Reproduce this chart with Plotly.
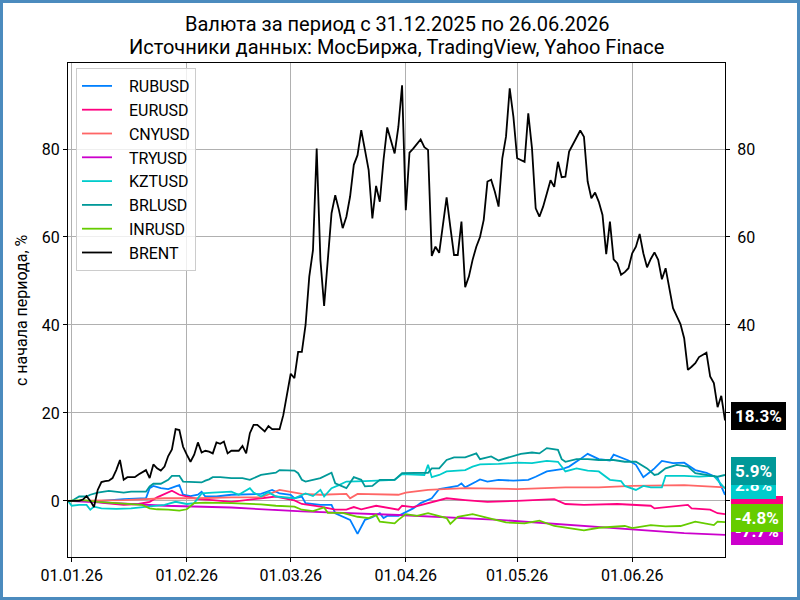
import pandas as pd
import plotly.graph_objects as go

START = "2025-12-31"
END = "2026-06-26"

# ---- BRENT: daily values, % change since 31.12.2025 ----
brent = [
    0, 0, 0, 0, 0.3, 1.1, 0, -1.4, 2.5, 4.3,
    4.5, 4.6, 5.2, 7.0, 9.3, 4.8, 5.4, 5.4, 5.4, 6.0,
    6.5, 7.0, 5.2, 8.3, 7.4, 6.9, 7.8, 10.2, 11.7, 16.3,
    16.1, 12.3, 10.5, 8.9, 10.5, 13.3, 11.0, 11.4, 11.2, 10.8,
    13.3, 13.0, 13.5, 10.8, 11.4, 11.4, 11.4, 12.5, 10.8, 15.4,
    17.3, 17.3, 16.5, 15.8, 17.0, 16.3, 16.3, 16.3, 19.5, 24.0,
    28.9, 27.9, 33.9, 33.9, 40.0, 51.0, 57.0, 80.1, 54.8, 44.3,
    54.8, 65.4, 69.5, 66.1, 62.0, 64.6, 69.2, 76.4, 78.6, 84.3,
    79.8, 75.2, 64.2, 71.6, 68.0, 77.5, 84.9, 82.0, 79.0, 85.0,
    94.5, 66.1, 79.2, 80.1, 81.2, 82.2, 80.4, 79.8, 55.7, 57.8,
    56.4, 62.7, 69.0, 62.3, 55.9, 55.9, 63.5, 48.6, 51.0, 54.8,
    57.8, 60.0, 63.9, 72.6, 73.0, 70.3, 66.9, 77.9, 82.8, 93.8,
    87.3, 77.9, 77.5, 77.1, 88.1, 80.2, 66.5, 64.6, 66.9, 69.9,
    72.9, 71.4, 77.1, 73.6, 73.7, 79.4, 80.9, 82.5, 84.2, 82.8,
    72.6, 68.8, 70.1, 68.0, 65.0, 56.1, 63.5, 54.9, 54.0, 51.4,
    52.0, 52.9, 56.3, 57.8, 60.7, 56.3, 53.1, 55.0, 56.5, 54.8,
    50.4, 52.9, 48.0, 43.8, 42.0, 40.2, 37.0, 29.8, 30.5, 31.3,
    32.7, 33.2, 33.7, 28.3, 26.8, 21.3, 23.9, 18.3,
]

# ---- currencies: (days since 31.12.2025, % change) ----
rub_days = [0, 9, 15, 21, 22, 23, 25, 27, 29, 30, 31, 33, 35, 36, 37, 40, 44, 52, 55, 57, 60, 61, 63, 64,
            68, 71, 72, 76, 78, 80, 82, 84, 85, 86, 89, 93, 95, 98, 100, 105, 106, 107, 110, 111, 113, 116,
            120, 124, 126, 129, 133, 135, 138, 140, 143, 146, 147, 149, 151, 153, 155, 157, 158, 160, 163,
            166, 169, 172, 175, 177]
rub_vals = [0, 0, 0.4, 0.6, 2.9, 3.4, 2.9, 2.7, 3.3, 3.6, 1.4, 1.1, 1.4, 2.1, 1.0, 1.0, 1.4, 1.6, 2.5, 1.7, 1.4,
            0.6, 1.0, -0.5, -0.9, -0.9, -2.8, -4.3, -7.5, -4.3, -3.7, -2.8, -3.9, -3.4, -3.4, -1.7, -0.5, 0.6,
            2.7, 3.4, 4.0, 3.1, 4.4, 4.9, 4.4, 4.8, 4.6, 4.8, 5.5, 6.7, 7.2, 7.8, 9.5, 10.7, 9.5, 9.2, 10.5,
            9.9, 9.2, 8.2, 5.4, 6.7, 7.4, 9.1, 8.6, 8.7, 7.0, 6.4, 5.2, 1.4]

eur_days = [0, 6, 10, 15, 19, 22, 24, 26, 28, 30, 32, 35, 39, 44, 52, 56, 61, 63, 68, 72, 75, 77, 79, 83, 89,
            90, 93, 98, 102, 107, 113, 121, 131, 134, 139, 148, 157, 158, 167, 168, 173, 175, 177]
eur_vals = [0, 0, -0.5, -0.9, -0.7, -0.2, 0.8, 1.6, 2.3, 1.4, 1.0, 0.4, 0.2, -0.2, 0.6, 1.0, 0.1, -0.7, -1.3,
            -2.0, -2.0, -1.4, -1.9, -1.1, -2.0, -1.1, -1.4, -0.2, 0.6, 0.2, -0.2, 0.0, 0.4, -0.7, -0.9, -0.7,
            -1.1, -1.7, -0.9, -1.7, -2.0, -2.8, -3.0]

cny_days = [0, 15, 26, 35, 44, 52, 57, 61, 63, 68, 75, 76, 78, 89, 91, 97, 107, 121, 134, 143, 152, 166, 177]
cny_vals = [0, 0.2, 0.6, 0.6, 0.8, 0.8, 2.5, 1.9, 1.6, 1.4, 1.6, 0.6, 1.6, 1.4, 1.9, 2.5, 2.9, 2.7, 3.1, 3.1,
            3.4, 3.6, 3.1]

try_days = [0, 9, 17, 26, 35, 44, 63, 89, 116, 143, 166, 177]
try_vals = [0, -0.3, -0.7, -1.1, -1.3, -1.5, -2.4, -3.2, -4.3, -6.0, -7.3, -7.7]

kzt_days = [0, 1, 3, 5, 6, 7, 9, 13, 17, 21, 26, 29, 32, 34, 35, 36, 39, 44, 46, 49, 50, 52, 54, 56, 61, 63,
            64, 66, 68, 69, 71, 73, 75, 80, 88, 90, 96, 97, 98, 100, 102, 107, 109, 111, 116, 121, 125, 129,
            132, 134, 137, 140, 143, 146, 149, 150, 153, 155, 157, 160, 161, 166, 170, 174, 175, 177]
kzt_vals = [0, -1.1, -0.9, -0.9, -2.0, -1.3, -1.7, -1.8, -1.7, -1.3, -0.9, -0.2, -0.7, -0.5, 0.6, 1.7, 1.9,
            2.1, 1.4, 2.9, 1.9, 1.0, 2.0, 1.0, 0.6, 1.4, 1.7, 1.1, 2.5, 1.0, 2.9, 3.6, 4.4, 4.5, 4.8, 6.1,
            5.9, 8.2, 5.4, 5.9, 6.7, 7.0, 7.8, 8.3, 8.4, 8.7, 8.6, 9.1, 8.9, 6.7, 7.4, 6.9, 6.7, 4.8, 4.5,
            3.4, 2.5, 3.4, 3.1, 3.1, 5.7, 5.7, 5.5, 5.7, 4.8, 2.8]

brl_days = [0, 1, 3, 5, 6, 8, 11, 13, 15, 17, 21, 22, 23, 25, 27, 28, 30, 31, 34, 36, 37, 38, 39, 41, 44, 47,
            49, 52, 56, 57, 61, 62, 63, 64, 68, 71, 72, 75, 77, 79, 80, 82, 84, 88, 90, 97, 98, 100, 102,
            104, 107, 110, 111, 114, 116, 119, 122, 125, 127, 129, 132, 133, 134, 137, 140, 143, 147, 150,
            153, 156, 158, 159, 161, 164, 167, 169, 172, 175, 177]
brl_vals = [0, 0, 1.0, 1.0, 1.4, 1.9, 2.3, 2.1, 1.9, 2.1, 2.1, 3.3, 3.9, 3.9, 4.8, 5.7, 5.7, 4.4, 4.2, 4.2,
            4.6, 4.9, 5.4, 5.4, 5.2, 5.2, 4.8, 5.9, 6.4, 7.0, 6.9, 6.3, 4.8, 4.4, 5.2, 6.4, 4.0, 2.9, 5.4,
            4.8, 3.3, 3.4, 4.8, 4.8, 6.3, 6.4, 7.4, 7.4, 9.3, 9.9, 9.9, 10.8, 9.5, 10.1, 9.2, 9.9, 10.7,
            11.0, 10.8, 12.0, 11.6, 9.5, 8.9, 9.5, 9.5, 9.3, 9.3, 8.9, 8.9, 7.4, 5.9, 6.1, 7.4, 8.2, 7.8,
            6.3, 5.9, 5.5, 5.9]

inr_days = [0, 4, 8, 13, 17, 20, 22, 24, 27, 30, 32, 34, 37, 44, 52, 56, 61, 63, 66, 69, 70, 74, 78, 81, 83,
            84, 88, 89, 91, 94, 97, 100, 102, 103, 105, 109, 113, 118, 123, 127, 131, 134, 139, 143, 148,
            150, 152, 157, 161, 165, 169, 174, 175, 177]
inr_vals = [0, 0.2, -0.2, -0.5, -0.7, -0.9, -1.7, -1.9, -2.0, -2.2, -1.9, -0.5, -0.4, -0.5, -0.8, -1.1, -1.3,
            -2.0, -2.3, -1.5, -2.7, -2.7, -3.6, -3.9, -3.2, -4.7, -5.1, -4.3, -3.0, -3.4, -2.8, -3.4, -3.9,
            -5.2, -3.6, -3.0, -3.9, -4.9, -5.1, -4.5, -5.7, -6.1, -6.7, -6.1, -5.8, -5.7, -6.2, -5.5, -5.8,
            -5.7, -4.7, -5.5, -4.7, -4.8]

names = ["RUBUSD", "EURUSD", "CNYUSD", "TRYUSD", "KZTUSD", "BRLUSD", "INRUSD", "BRENT"]
colors = ["#0080ff", "#ff0080", "#ff6666", "#cc00cc", "#00cccc", "#009999", "#66cc00", "#000000"]

title_1 = "Валюта за период с 31.12.2025 по 26.06.2026"
title_2 = "Источники данных: МосБиржа, TradingView, Yahoo Finace"
y_title = "с начала периода, %"

start = pd.Timestamp(START)
def to_dates(days):
    return start + pd.to_timedelta(days, unit="D")

daily_dates = pd.date_range(START, END, freq="D")
series = [
    (to_dates(rub_days), rub_vals),
    (to_dates(eur_days), eur_vals),
    (to_dates(cny_days), cny_vals),
    (to_dates(try_days), try_vals),
    (to_dates(kzt_days), kzt_vals),
    (to_dates(brl_days), brl_vals),
    (to_dates(inr_days), inr_vals),
    (daily_dates, brent),
]

FONT = "Roboto"
YMIN, YMAX = -12.75, 99.55
PLOT_L, PLOT_R, PLOT_T, PLOT_B = 68, 725, 63, 557
W = PLOT_R - PLOT_L
H = PLOT_B - PLOT_T

def px(pix):
    return (pix - PLOT_L) / W

def py(pix):
    return (PLOT_B - pix) / H

NBSP = "\u00a0"

fig = go.Figure()
for i, (name, col, (xs, ys)) in enumerate(zip(names, colors, series)):
    fig.add_trace(go.Scatter(
        x=xs, y=ys, mode="lines", name=NBSP * 3 + name,
        line=dict(color=col, width=1.8),
        legendgroup=f"g{i}",
    ))

# invisible trace to activate right-hand axis
fig.add_trace(go.Scatter(x=daily_dates, y=brent, yaxis="y2", mode="lines",
                         line=dict(color="rgba(0,0,0,0)", width=0), showlegend=False,
                         hoverinfo="skip"))

annotations = []
# end-of-series value labels
for name, col, (xs, ys) in zip(names, colors, series):
    v = ys[-1]
    annotations.append(dict(
        x=1, xref="paper", y=v, yref="y", xanchor="left", yanchor="middle",
        xshift=6, yshift=4, text=f"<b>{v:.1f}%</b>", showarrow=False,
        font=dict(family=FONT, size=17, color="white"),
        bgcolor=col, bordercolor=col, borderwidth=1, borderpad=3, align="left",
    ))

annotations.append(dict(x=0.5, xref="paper", y=py(24), yref="paper", yanchor="middle",
                        text=title_1, showarrow=False,
                        font=dict(family=FONT, size=20, color="black")))
annotations.append(dict(x=0.5, xref="paper", y=py(47), yref="paper", yanchor="middle",
                        text=title_2, showarrow=False,
                        font=dict(family=FONT, size=20, color="black")))
annotations.append(dict(x=px(21), xref="paper", y=0.5, yref="paper", textangle=-90,
                        xanchor="center", yanchor="middle",
                        text=y_title, showarrow=False,
                        font=dict(family=FONT, size=16, color="black")))

fig.update_layout(
    width=800, height=600,
    paper_bgcolor="white", plot_bgcolor="white",
    margin=dict(l=PLOT_L, r=800 - PLOT_R, t=PLOT_T, b=600 - PLOT_B),
    font=dict(family=FONT, size=16, color="black"),
    showlegend=True,
    legend=dict(x=px(76), y=py(68), xanchor="left", yanchor="top",
                bgcolor="rgba(255,255,255,0.8)", bordercolor="#cccccc", borderwidth=1,
                font=dict(family=FONT, size=16), tracegroupgap=3.6, traceorder="normal"),
    xaxis=dict(type="date", range=[START, END], tickformat="%d.%m.%y", dtick="M1",
               tick0="2026-01-01", showgrid=True, gridcolor="#b0b0b0", gridwidth=1,
               showline=True, linecolor="black", linewidth=1, mirror=True,
               ticks="outside", ticklen=4, tickcolor="black", zeroline=False,
               tickfont=dict(family=FONT, size=16)),
    yaxis=dict(range=[YMIN, YMAX], tickvals=[0, 20, 40, 60, 80], showgrid=True,
               gridcolor="#b0b0b0", gridwidth=1, zeroline=False,
               showline=True, linecolor="black", linewidth=1, mirror=True,
               ticks="outside", ticklen=4, tickcolor="black",
               tickfont=dict(family=FONT, size=16)),
    yaxis2=dict(range=[YMIN, YMAX], tickvals=[0, 20, 40, 60, 80], overlaying="y", side="right",
                showgrid=False, zeroline=False, showline=False, ticks="outside", ticklen=4,
                tickcolor="black", ticklabelstandoff=4, tickfont=dict(family=FONT, size=16)),
    annotations=annotations,
    shapes=[dict(type="rect", xref="paper", yref="paper",
                 x0=px(1.5), x1=px(798.5), y0=py(598.5), y1=py(1.5),
                 line=dict(color="#4b8bbe", width=3), fillcolor="rgba(0,0,0,0)", layer="above")],
)

fig.write_html("out.html")
